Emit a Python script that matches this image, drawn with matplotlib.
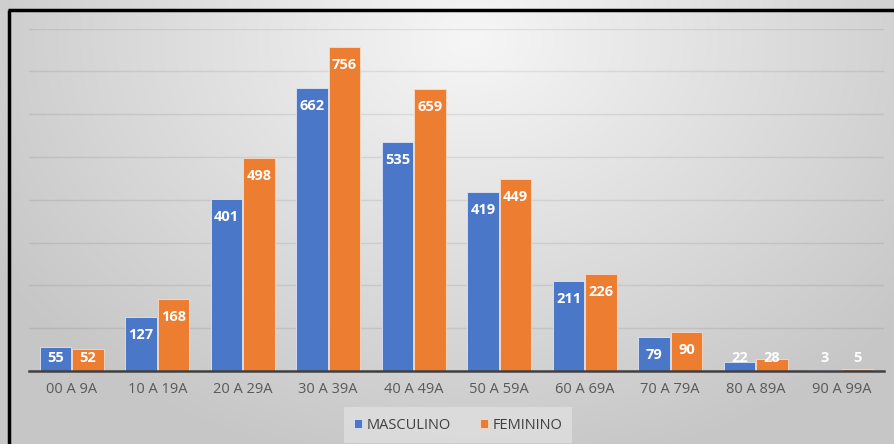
import matplotlib
matplotlib.use("Agg")
import matplotlib.pyplot as plt
import numpy as np

categories = ["00 A 9A", "10 A 19A", "20 A 29A", "30 A 39A", "40 A 49A",
              "50 A 59A", "60 A 69A", "70 A 79A", "80 A 89A", "90 A 99A"]
masculino = [55, 127, 401, 662, 535, 419, 211, 79, 22, 3]
feminino = [52, 168, 498, 756, 659, 449, 226, 90, 28, 5]
series_names = ["MASCULINO", "FEMININO"]

BLUE = "#4A77C8"
ORANGE = "#ED7D31"

W, H = 894, 444
fig = plt.figure(figsize=(W / 100, H / 100), dpi=100)

# radial gradient background
bg = fig.add_axes([0, 0, 1, 1], zorder=-10)
yy, xx = np.mgrid[0:H, 0:W]
cx, cy = 470, 40
d = np.sqrt(((xx - cx) / 540.0) ** 2 + ((yy - cy) / 420.0) ** 2)
val = np.clip(0.965 - 0.18 * d, 0.78, 0.97)
bg.imshow(np.dstack([val, val, val]), aspect="auto", extent=[0, W, H, 0])
bg.set_xlim(0, W)
bg.set_ylim(H, 0)
bg.axis("off")
# black border (top and left visible)
bg.plot([8, W], [10.5, 10.5], color="black", lw=2.5, solid_capstyle="butt")
bg.plot([8.5, 8.5], [10, H], color="black", lw=2.5, solid_capstyle="butt")

ax = fig.add_axes([29 / W, 1 - 371 / H, (884 - 29) / W, (371 - 28.5) / H])
ax.patch.set_alpha(0)
x = np.arange(len(categories))
bw = 0.37
off = 0.19
ax.bar(x - off, masculino, bw, color=BLUE, edgecolor="#dfe6f5", linewidth=0.6,
       label=series_names[0], zorder=3)
ax.bar(x + off, feminino, bw, color=ORANGE, edgecolor="#f8dccb", linewidth=0.6,
       label=series_names[1], zorder=3)

for xs, vals in ((x - off, masculino), (x + off, feminino)):
    for xi, v in zip(xs, vals):
        yl = max(v - 42, 31)
        ax.text(xi, yl, str(v), ha="center", va="center", color="white",
                fontsize=10.5, fontweight="bold", family="Open Sans", zorder=5)

ax.set_xlim(-0.5, len(categories) - 0.5)
ax.set_ylim(0, 800)
ax.set_yticks(np.arange(0, 801, 100))
ax.yaxis.grid(True, color="black", alpha=0.08, lw=1.0, zorder=0)
ax.tick_params(axis="y", left=False, labelleft=False)
ax.set_xticks(x)
ax.set_xticklabels(categories, fontsize=10.5, color="#595959", family="Open Sans")
ax.tick_params(axis="x", length=0, pad=8)
for s in ("top", "right", "left"):
    ax.spines[s].set_visible(False)
ax.spines["bottom"].set_color("#404040")
ax.spines["bottom"].set_linewidth(1.8)
ax.spines["bottom"].set_zorder(6)

leg = fig.legend(loc="center", bbox_to_anchor=(458 / W, 1 - 425 / H), ncol=2,
                 frameon=True, handlelength=0.55, handleheight=0.55,
                 handletextpad=0.3, columnspacing=2.0, borderpad=0.4,
                 prop={"family": "Open Sans", "size": 10.5})
leg.get_frame().set_facecolor("#e6e6e6")
leg.get_frame().set_edgecolor("none")
leg.get_frame().set_alpha(0.6)
leg.get_frame().set_boxstyle("square", pad=0.3)
for t in leg.get_texts():
    t.set_color("#404040")

fig.savefig("out.png", dpi=100)
